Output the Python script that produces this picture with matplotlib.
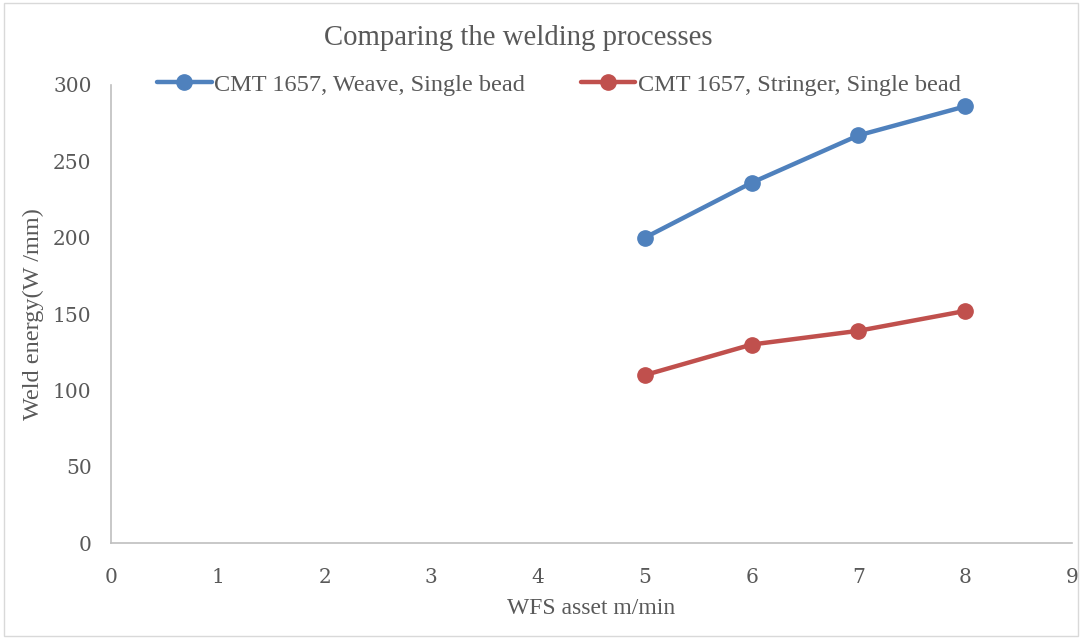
import matplotlib
matplotlib.use("Agg")
import matplotlib.pyplot as plt
from matplotlib.patches import Rectangle

# Wire feed speed (m/min) and weld energy (W/mm)
wfs = [5, 6, 7, 8]
weave_energy = [200, 236, 267, 286]
stringer_energy = [110, 130, 139, 152]

weave_label = "CMT 1657, Weave, Single bead"
stringer_label = "CMT 1657, Stringer, Single bead"
x_ticks = list(range(0, 10))
y_ticks = list(range(0, 301, 50))

text_color = "#595959"
blue = "#4F81BD"
red = "#C0504D"
serif = ["Liberation Serif", "DejaVu Serif"]

plt.rcParams["font.family"] = serif

fig = plt.figure(figsize=(10.82, 6.39), dpi=100)
ax = fig.add_axes([0.1026, 0.1502, 0.8882, 0.7168])

ax.plot(wfs, weave_energy, color=blue, lw=3.2, marker="o", ms=11,
        label=weave_label, solid_capstyle="round")
ax.plot(wfs, stringer_energy, color=red, lw=3.2, marker="o", ms=11,
        label=stringer_label, solid_capstyle="round")

ax.set_xlim(0, 9)
ax.set_ylim(0, 300)
ax.set_xticks(x_ticks)
ax.set_yticks(y_ticks)
ax.tick_params(length=0, colors=text_color)
ax.tick_params(axis="x", pad=18)
ax.tick_params(axis="y", pad=14)
for lab in ax.get_xticklabels() + ax.get_yticklabels():
    lab.set_family(["DejaVu Serif"])
    lab.set_fontsize(14.5)

for side in ("top", "right"):
    ax.spines[side].set_visible(False)
for side in ("left", "bottom"):
    ax.spines[side].set_color("#BFBFBF")
    ax.spines[side].set_linewidth(1.2)

ax.set_xlabel("WFS asset m/min", color=text_color, fontsize=17)
ax.xaxis.set_label_coords(0.5, -0.12)
ax.set_ylabel("Weld energy(W /mm)", color=text_color, fontsize=17.5)
ax.yaxis.set_label_coords(-0.07, 0.5)

fig.text(0.479, 0.9405, "Comparing the welding processes", ha="center", va="center",
         color=text_color, fontsize=20.7)

leg = ax.legend(loc="center", bbox_to_anchor=(0.466, 1.0), ncol=2, frameon=False,
                fontsize=17.5, handlelength=2.25, handletextpad=0.1, columnspacing=2.3,
                borderaxespad=0)
for t in leg.get_texts():
    t.set_color(text_color)

fig.patches.append(Rectangle((0.004, 0.004), 0.992, 0.992, transform=fig.transFigure,
                             fill=False, edgecolor="#D9D9D9", lw=1.0))

fig.savefig("out.png", dpi=100)
